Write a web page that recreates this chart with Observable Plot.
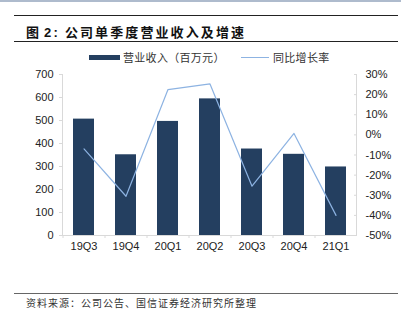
<!DOCTYPE html>
<html><head><meta charset="utf-8">
<script src="https://cdn.jsdelivr.net/npm/d3@7"></script>
<script src="https://cdn.jsdelivr.net/npm/@observablehq/plot@0.6"></script>
<style>
body{margin:0;width:403px;height:321px;position:relative;overflow:hidden;background:#fff;font-family:"Liberation Sans",Arial,sans-serif;}
#topbar{position:absolute;left:0;top:0;width:401px;height:2px;background:#aebbcd;}
.hline{position:absolute;left:14px;width:384px;height:1px;background:#222;}
#title{position:absolute;left:26px;top:23px;font-family:"Noto Sans CJK SC",sans-serif;font-weight:bold;font-size:13px;line-height:18px;letter-spacing:2.1px;color:#111;white-space:nowrap;}
#title .num{font-family:"Liberation Sans",Arial,sans-serif;margin-left:3px;margin-right:5px;}
#legend{position:absolute;left:0;top:50px;width:403px;height:16px;font-family:"Noto Sans CJK SC",sans-serif;font-size:11px;color:#333;}
.sw{position:absolute;}
.lt{position:absolute;top:0;line-height:14px;white-space:nowrap;letter-spacing:0.3px;}
#chart{position:absolute;left:0;top:66px;}
#footer{position:absolute;left:26px;top:295px;font-family:"Noto Sans CJK SC",sans-serif;font-size:10px;line-height:15px;letter-spacing:1px;color:#333;white-space:nowrap;}
</style></head><body>
<div id="topbar"></div>
<div class="hline" style="top:15px"></div>
<div id="title">图<span class="num">2:</span>公司单季度营业收入及增速</div>
<div class="hline" style="top:41px"></div>
<div id="legend">
  <div class="sw" style="left:89px;top:5px;width:31px;height:5px;background:#243f60"></div>
  <div class="lt" style="left:123px" id="lg1"></div>
  <div class="sw" style="left:241px;top:7px;width:28px;height:1.3px;background:#8db3e2"></div>
  <div class="lt" style="left:273px" id="lg2"></div>
</div>
<div id="chart"></div>
<div class="hline" style="top:293px;background:#666;height:1.3px"></div>
<div id="footer">资料来源：公司公告、国信证券经济研究所整理</div>
<script>
const quarters = ["19Q3","19Q4","20Q1","20Q2","20Q3","20Q4","21Q1"];
const revenue = [506, 351, 496, 594, 376, 353, 298];
const growth = [-7, -30.5, 22.5, 25.3, -25.5, 0.7, -40];
const leftTicks = [0,100,200,300,400,500,600,700];
const rightTicks = [-50,-40,-30,-20,-10,0,10,20,30];
const seriesNames = ["营业收入（百万元）","同比增长率"];

document.getElementById("lg1").textContent = seriesNames[0];
document.getElementById("lg2").textContent = seriesNames[1];

const pctToY = p => (p + 50) * 700 / 80;
const yToPct = y => Math.round(y * 80 / 700 - 50);
const data = quarters.map((q, i) => ({q, r: revenue[i], g: growth[i]}));

const chart = Plot.plot({
  width: 403, height: 194,
  marginTop: 8, marginBottom: 25, marginLeft: 62, marginRight: 47,
  x: {domain: quarters, paddingInner: 0.5, paddingOuter: 0.25},
  y: {domain: [0, 700]},
  style: {fontFamily: "'Liberation Sans', Arial, sans-serif", fontSize: "11px", color: "#222", background: "transparent"},
  marks: [
    Plot.barY(data, {x: "q", y: "r", fill: "#243f60"}),
    Plot.ruleY([0], {stroke: "#d9d9d9"}),
    Plot.frame({anchor: "left", stroke: "#d9d9d9"}),
    Plot.frame({anchor: "right", stroke: "#d9d9d9"}),
    Plot.line(data, {x: "q", y: d => pctToY(d.g), stroke: "#8db3e2", strokeWidth: 1.2}),
    Plot.axisY({anchor: "left", ticks: leftTicks, tickSize: 3, tickPadding: 6, stroke: "#d9d9d9", label: null}),
    Plot.axisY({anchor: "right", ticks: rightTicks.map(pctToY), tickFormat: y => yToPct(y) + "%", tickSize: 3, tickPadding: 9, dx: -3, stroke: "#d9d9d9", label: null}),
    Plot.axisX({tickSize: 0, tickPadding: 7, label: null}),
    Plot.axisX({tickSize: 3, tickFormat: () => "", dx: -21, stroke: "#d9d9d9", label: null})
  ]
});
document.getElementById("chart").appendChild(chart);
</script>
</body></html>
